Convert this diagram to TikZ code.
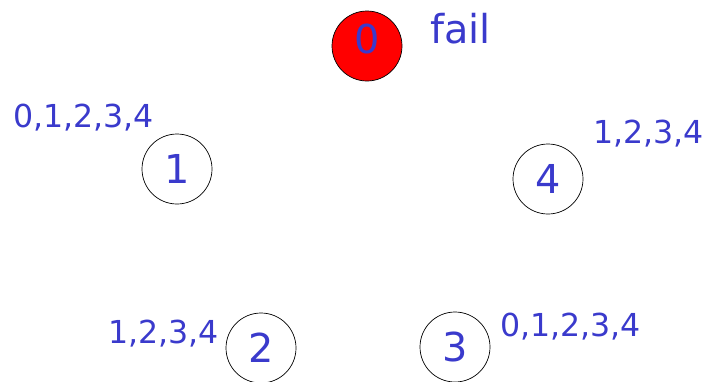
\documentclass[tikz,border=0pt]{standalone}
\usepackage{fontspec}
\setmainfont{DejaVu Sans}
\definecolor{cLbl}{HTML}{3A3ACC}
\definecolor{cFail}{HTML}{FF0000}

\begin{document}
\begin{tikzpicture}[
  x=0.03cm,y=-0.03cm,
  proc/.style={circle,draw=black,line width=0.6pt,minimum size=2.1cm,inner sep=0pt,
    text=cLbl,font=\fontsize{34}{34}\selectfont},
  lst/.style={anchor=base west,inner sep=0pt,text=cLbl,font=\fontsize{27}{27}\selectfont},
]
\useasboundingbox (0,0) rectangle (706,381);

% ---------- PROCESSES ----------
\node[proc,fill=cFail] (p0) at (367,46) {};
\node[inner sep=0pt,text=cLbl,font=\fontsize{34}{34}\selectfont] (t0) at (367,39) {0};
\node[proc] (p1) at (177,169) {1};
\node[proc] (p4) at (548,179) {4};
\node[proc] (p2) at (261,348) {2};
\node[proc] (p3) at (455,347) {3};

% ---------- VIEWS ----------
\node[lst,font=\fontsize{34}{34}\selectfont] (fail) at (430,43) {fail};
\node[lst] (v1) at (13,127) {0,1,2,3,4};
\node[lst] (v4) at (593,143) {1,2,3,4};
\node[lst] (v2) at (108,343) {1,2,3,4};
\node[lst] (v3) at (500,336) {0,1,2,3,4};

\end{tikzpicture}
\end{document}
